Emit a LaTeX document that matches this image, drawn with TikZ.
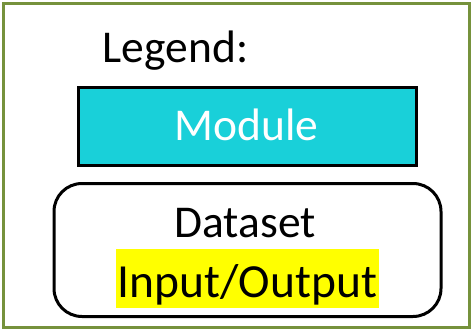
\documentclass[tikz,border=0pt]{standalone}
\usepackage{fontspec}
\setmainfont{Carlito}
\definecolor{frameolive}{RGB}{118,146,60}
\definecolor{modcyan}{RGB}{25,208,217}
\definecolor{hiyellow}{RGB}{255,255,0}
\tikzset{
  lbl/.style={font=\fontsize{45.5}{54}\selectfont, inner sep=0pt, anchor=base},
  modbox/.style={draw=black, line width=3pt, fill=modcyan},
  databox/.style={draw=black, line width=3pt, rounded corners=28pt},
}
\begin{document}
\begin{tikzpicture}[x=1pt,y=-1pt]
  \useasboundingbox (0,0) rectangle (474,332);
  % outer legend frame
  \draw[frameolive, line width=3pt] (3.5,3.5) rectangle (469.5,327.5);
  \node[lbl] (title) at (175.5,62) {Legend:};
  % module sample
  \draw[modbox] (78.5,87.5) rectangle (416,165.5);
  \node[lbl, text=white] (module) at (246.5,140) {Module};
  % dataset sample
  \draw[databox] (54,183.5) rectangle (441,316.5);
  \fill[hiyellow] (116,249) rectangle (379,308);
  \node[lbl] (dataset) at (245,237) {Dataset};
  \node[lbl, font=\fontsize{47.5}{56}\selectfont] (io) at (247.5,297) {Input/Output};
\end{tikzpicture}
\end{document}
